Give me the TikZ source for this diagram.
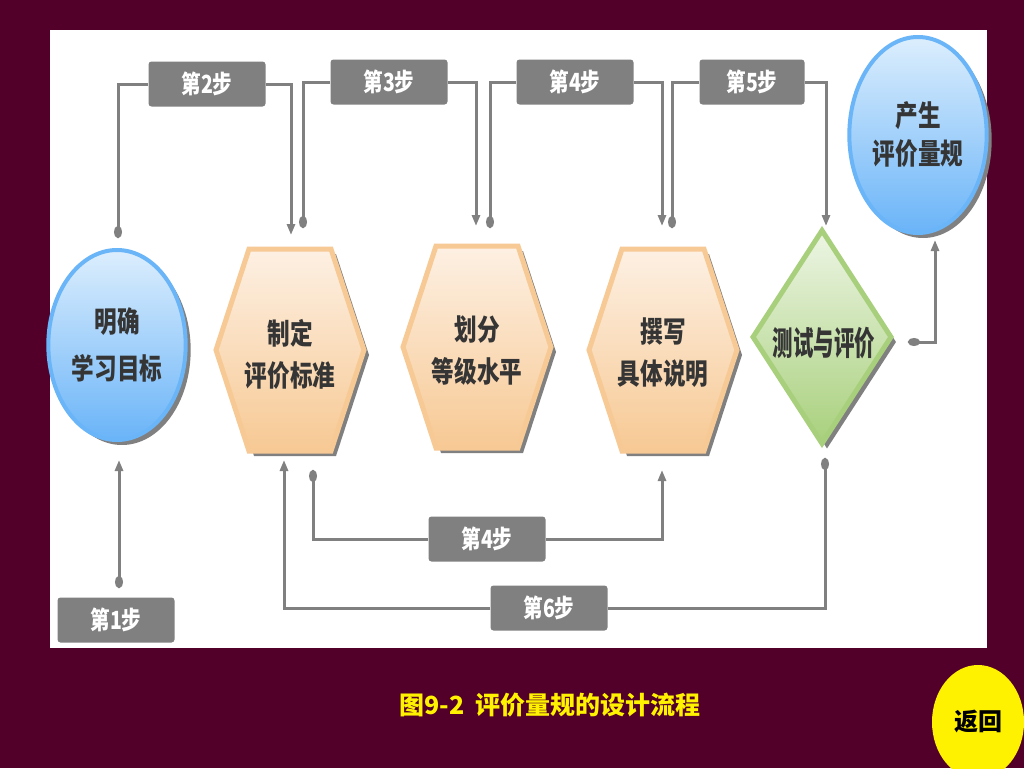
\documentclass[tikz,border=0pt]{standalone}
\usepackage{fontspec}
\newfontfamily\cjk{Noto Sans CJK SC}
\newfontfamily\cjkc{Noto Sans CJK SC}[FakeStretch=0.78]
\newfontfamily\cjkn{Noto Sans CJK SC}[FakeStretch=0.62]
\usetikzlibrary{arrows.meta,shapes.geometric,shadows}
\definecolor{bgM}{HTML}{520029}
\definecolor{lnG}{HTML}{808080}
\definecolor{txD}{HTML}{353535}
\definecolor{orB}{HTML}{F7C994}
\definecolor{orT}{HTML}{FDF0E3}
\definecolor{blB}{HTML}{6AB4F8}
\definecolor{blT}{HTML}{DCEEFD}
\definecolor{grB}{HTML}{A8D07C}
\definecolor{grT}{HTML}{EDF5E4}

\begin{document}
\begin{tikzpicture}[x=1pt,y=-1pt,
  shd/.style={drop shadow={shadow xshift=5pt,shadow yshift=-5pt,fill=lnG,opacity=1}},
  hexa/.style={shd,draw=orB,line width=5pt,line join=miter,top color=orT,bottom color=orB},
  oval/.style={ellipse,shd,draw=blB,line width=4pt,top color=blT,bottom color=blB,
    minimum width=126pt,minimum height=190pt,text=txD,align=center,
    font=\cjkc\bfseries\fontsize{29}{47}\selectfont},
  stepbox/.style={rectangle,rounded corners=3pt,fill=lnG,text=white,
    minimum width=117pt,minimum height=45pt,font=\cjkc\bfseries\fontsize{25}{28}\selectfont},
  lbl/.style={text=txD,align=center,font=\cjkc\bfseries\fontsize{29}{42}\selectfont},
  conn/.style={draw=lnG,line width=3pt},
  dot/.tip={Ellipse[length=12pt,width=8pt]},
  arr/.tip={Triangle[length=11pt,width=8pt]}]
\useasboundingbox (0,0) rectangle (1024,768);
\fill[bgM] (0,0) rectangle (1024,768);
\fill[white] (50,30) rectangle (987,648);

% shapes
\foreach \cx/\cy in {290/350,477/347,663/350}
  \path[hexa] (\cx,\cy) ++(-74,0) -- ++(33,-101) -- ++(82,0) -- ++(33,101)
    -- ++(-33,101) -- ++(-82,0) -- cycle;
\node[oval] (goal) at (117,345) {明确\\学习目标};
\node[oval,minimum height=196pt,font=\cjkc\bfseries\fontsize{29}{38}\selectfont]
  (rubric) at (918,135) {产生\\评价量规};
\node[diamond,shd,draw=grB,line width=5pt,top color=grT,bottom color=grB,
  minimum width=140pt,minimum height=215pt,inner sep=0pt] (test) at (822,337) {};
\node[lbl] (crit) at (290,354) {制定\\评价标准};
\node[lbl] (level) at (477,351) {划分\\等级水平};
\node[lbl] (desc) at (663,353) {撰写\\具体说明};
\node[lbl,font=\cjkn\bfseries\fontsize{33}{36}\selectfont] at (824,343) {测试与评价};

% connector ends
\coordinate (s1) at (119,588); \coordinate (e1) at (119,460);
\coordinate (s2) at (118,238); \coordinate (e2) at (291,235);
\coordinate (s3) at (303,228); \coordinate (e3) at (476,226);
\coordinate (s4) at (490,228); \coordinate (e4) at (662,226);
\coordinate (s5) at (672,228); \coordinate (e5) at (826,226);
\coordinate (s7) at (908,342); \coordinate (e7) at (935,240);
\coordinate (t4) at (313,470); \coordinate (f4) at (662,470);
\coordinate (s6) at (825,458); \coordinate (e6) at (284,460);

\node[stepbox] (st1) at (116,620) {第1步};
\node[stepbox] (st2) at (207,84) {第2步};
\node[stepbox] (st3) at (389,82) {第3步};
\node[stepbox] (st4) at (575,82) {第4步};
\node[stepbox,minimum width=105pt] (st5) at (752,82) {第5步};
\node[stepbox] (st4b) at (487,539) {第4步};
\node[stepbox] (st6) at (549,608) {第6步};

\draw[conn,dot-arr] (s1) -- (e1);
\draw[conn,dot-] (s2) |- (st2); \draw[conn,-arr] (st2) -| (e2);
\draw[conn,dot-] (s3) |- (st3); \draw[conn,-arr] (st3) -| (e3);
\draw[conn,dot-] (s4) |- (st4); \draw[conn,-arr] (st4) -| (e4);
\draw[conn,dot-] (s5) |- (st5); \draw[conn,-arr] (st5) -| (e5);
\draw[conn,dot-] (t4) |- (st4b); \draw[conn,-arr] (st4b) -| (f4);
\draw[conn,dot-] (s6) |- (st6); \draw[conn,-arr] (st6) -| (e6);
\draw[conn,dot-arr] (s7) -| (e7);

% caption
\node[text=yellow,font=\cjk\bfseries\fontsize{25}{28}\selectfont] (cap) at (550,705)
  {图9-2\ \ 评价量规的设计流程};
\node[ellipse,fill=yellow,minimum width=92pt,minimum height=114pt,
  font=\cjk\bfseries\fontsize{24}{26}\selectfont] (back) at (978,722) {返回};
\end{tikzpicture}
\end{document}
